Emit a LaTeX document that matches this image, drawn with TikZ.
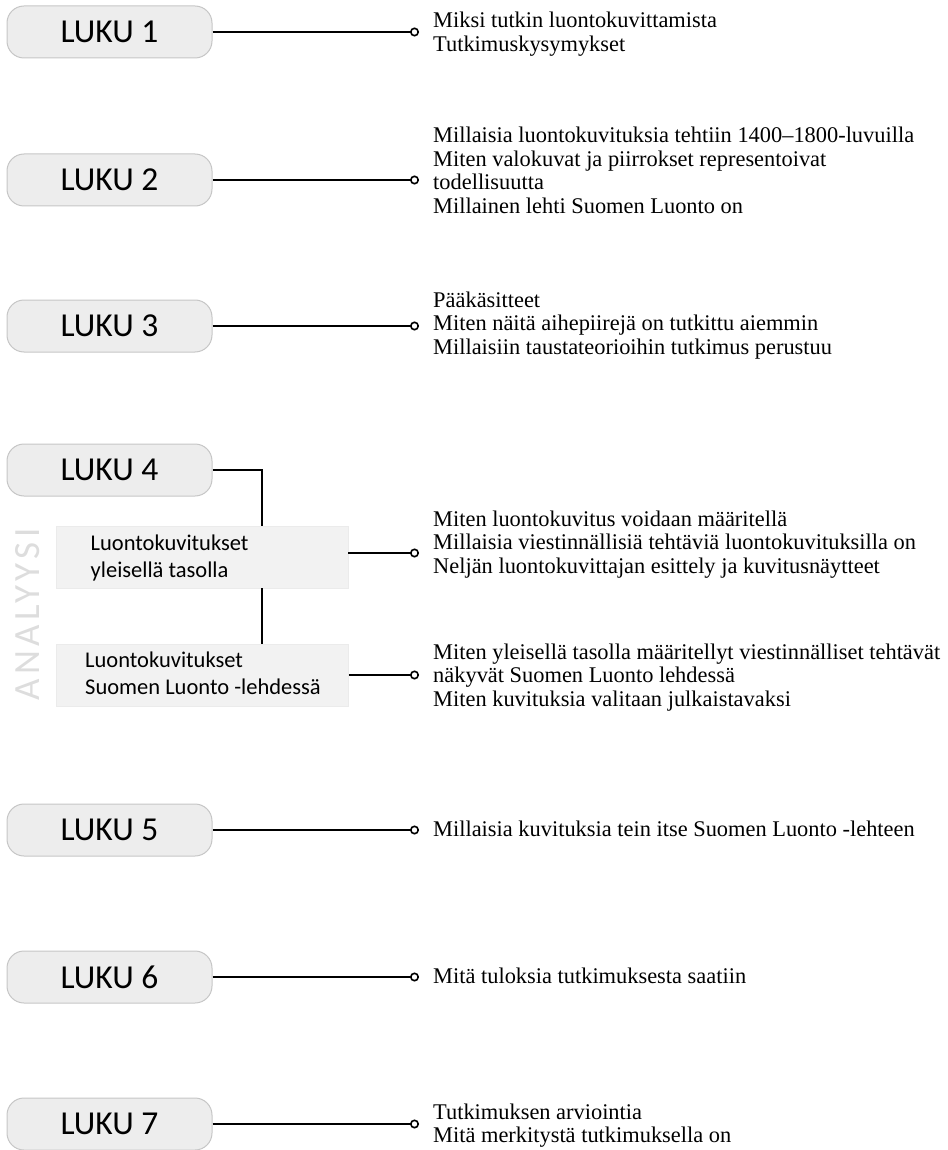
\documentclass[tikz,border=0pt]{standalone}
\usepackage{fontspec}
\setmainfont{Liberation Serif}
\newfontfamily\boxfont{Carlito}
\newfontfamily\anfont[LetterSpace=12]{Carlito}
\usetikzlibrary{arrows.meta}
\definecolor{lukufill}{HTML}{EDEDED}
\definecolor{lukudraw}{HTML}{C6C6C6}
\definecolor{subfill}{HTML}{F2F2F2}
\definecolor{subdraw}{HTML}{EBEBEB}
\definecolor{angray}{HTML}{DDDDDD}
\newcommand\txtlines[1]{\begin{tabular}[t]{@{}l@{}}#1\end{tabular}}
\tikzset{
  luku/.style={draw=lukudraw, line width=1pt, fill=lukufill, rounded corners=17pt,
    minimum width=205pt, minimum height=52pt, inner sep=0pt,
    font=\boxfont\fontsize{33.5}{36}\selectfont},
  subbox/.style={draw=subdraw, line width=0.6pt, fill=subfill, minimum width=292pt,
    minimum height=62pt, inner sep=0pt},
  subtext/.style={anchor=base west, inner sep=0pt, font=\boxfont\fontsize{22.5}{27}\selectfont},
  rtext/.style={anchor=base west, inner sep=0pt, font=\fontsize{22.4}{23.5}\selectfont},
  conn/.style={line width=1.6pt, -{Circle[open, length=9pt, line width=1.6pt]}},
  plain/.style={line width=1.6pt}
}
\begin{document}
\begin{tikzpicture}[x=1pt, y=-1pt]
\useasboundingbox (0,0) rectangle (947,1150);
% ANALYYSI label
\node[rotate=90, inner sep=0pt, text=angray, font=\anfont\fontsize{37}{40}\selectfont] (an) at (28,614.5) {ANALYYSI};
% LUKU boxes
\node[luku] (L1) at (109.5,32) {LUKU 1};
\node[luku] (L2) at (109.5,180) {LUKU 2};
\node[luku] (L3) at (109.5,326) {LUKU 3};
\node[luku] (L4) at (109.5,470) {LUKU 4};
\node[luku] (L5) at (109.5,830) {LUKU 5};
\node[luku] (L6) at (109.5,977) {LUKU 6};
\node[luku] (L7) at (109.5,1124) {LUKU 7};
% sub boxes
\node[subbox] (b1) at (202,557) {};
\node[subbox] (b2) at (202.5,675) {};
\node[subtext] (b1t) at (90.5,550) {\txtlines{Luontokuvitukset\\yleisellä tasolla}};
\node[subtext] (b2t) at (85,667) {\txtlines{Luontokuvitukset\\Suomen Luonto -lehdessä}};
% circle end coordinates
\coordinate (c1) at (419,32);
\coordinate (c2) at (419,180);
\coordinate (c3) at (419,326);
\coordinate (c4a) at (419,553);
\coordinate (c4b) at (419,675);
\coordinate (c5) at (419,830);
\coordinate (c6) at (419,977);
\coordinate (c7) at (419,1124);
\coordinate (j4) at (262,470);
% connectors
\draw[conn] (L1.east) -- (c1);
\draw[conn] (L2.east) -- (c2);
\draw[conn] (L3.east) -- (c3);
\draw[plain] (L4.east) -- (j4) -- (j4 |- b1.north);
\draw[plain] (j4 |- b1.south) -- (j4 |- b2.north);
\draw[conn] (b1.east |- c4a) -- (c4a);
\draw[conn] (b2.east |- c4b) -- (c4b);
\draw[conn] (L5.east) -- (c5);
\draw[conn] (L6.east) -- (c6);
\draw[conn] (L7.east) -- (c7);
% right texts
\node[rtext] (t1) at (433,28) {\txtlines{Miksi tutkin luontokuvittamista\\Tutkimuskysymykset}};
\node[rtext] (t2) at (433,143) {\txtlines{Millaisia luontokuvituksia tehtiin 1400–1800-luvuilla\\Miten valokuvat ja piirrokset representoivat\\todellisuutta\\Millainen lehti Suomen Luonto on}};
\node[rtext] (t3) at (433,307) {\txtlines{Pääkäsitteet\\Miten näitä aihepiirejä on tutkittu aiemmin\\Millaisiin taustateorioihin tutkimus perustuu}};
\node[rtext] (t4a) at (433,526) {\txtlines{Miten luontokuvitus voidaan määritellä\\Millaisia viestinnällisiä tehtäviä luontokuvituksilla on\\Neljän luontokuvittajan esittely ja kuvitusnäytteet}};
\node[rtext] (t4b) at (433,659) {\txtlines{Miten yleisellä tasolla määritellyt viestinnälliset tehtävät\\näkyvät Suomen Luonto lehdessä\\Miten kuvituksia valitaan julkaistavaksi}};
\node[rtext] (t5) at (433,836) {Millaisia kuvituksia tein itse Suomen Luonto -lehteen};
\node[rtext] (t6) at (433,983) {Mitä tuloksia tutkimuksesta saatiin};
\node[rtext] (t7) at (433,1119) {\txtlines{Tutkimuksen arviointia\\Mitä merkitystä tutkimuksella on}};
\end{tikzpicture}
\end{document}
